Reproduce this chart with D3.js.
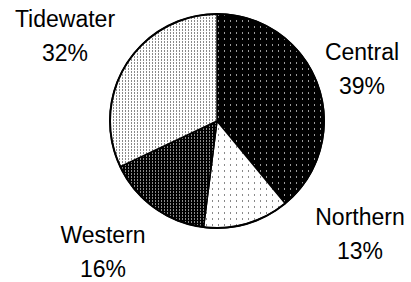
<!DOCTYPE html>
<html>
<head>
<meta charset="utf-8">
<script src="https://cdn.jsdelivr.net/npm/d3@7"></script>
<style>
  body { margin: 0; background: #fff; }
  svg { display: block; }
</style>
</head>
<body>
<svg width="411" height="282"></svg>
<script>
var regions = ["Central", "Northern", "Western", "Tidewater"];
var shares = [39, 13, 16, 32];
// label anchor (centre x, first baseline y)
var labelX = [362, 360, 103, 65];
var labelY = [60, 225, 243, 27];

var svg = d3.select("svg");
var cx = 217, cy = 121, radius = 107;

// fill patterns, one per region
var defs = svg.append("defs");
var pats = [
  { id: "pCentral", size: 6, bg: "#000", dot: "#9a9a9a" },
  { id: "pNorthern", size: 6, bg: "#fff", dot: "#888" },
  { id: "pWestern", size: 3, bg: "#000", dot: "#8a8a8a" },
  { id: "pTidewater", size: 3, bg: "#fff", dot: "#8a8a8a" }
];
pats.forEach(function(p) {
  var pat = defs.append("pattern")
    .attr("id", p.id)
    .attr("patternUnits", "userSpaceOnUse")
    .attr("width", p.size)
    .attr("height", p.size);
  pat.append("rect").attr("width", p.size).attr("height", p.size).attr("fill", p.bg);
  pat.append("rect").attr("x", 1).attr("y", 1).attr("width", 1).attr("height", 2).attr("fill", p.dot);
});

var pie = d3.pie().sort(null).value(function(d) { return d; });
var arc = d3.arc().innerRadius(0).outerRadius(radius);

var g = svg.append("g").attr("transform", "translate(" + cx + "," + cy + ")");

g.selectAll("path.slice")
  .data(pie(shares))
  .enter().append("path")
  .attr("class", "slice")
  .attr("d", arc)
  .attr("fill", function(d, i) { return "url(#" + pats[i].id + ")"; })
  .attr("stroke", "#000")
  .attr("stroke-width", 1.5)
  .attr("stroke-linejoin", "round");

g.append("circle")
  .attr("r", radius)
  .attr("fill", "none")
  .attr("stroke", "#000")
  .attr("stroke-width", 2);

// labels
var lab = svg.selectAll("text.lbl")
  .data(regions)
  .enter().append("text")
  .attr("class", "lbl")
  .attr("text-anchor", "middle")
  .attr("font-family", "Liberation Sans, Arial, sans-serif")
  .attr("font-size", 23)
  .attr("fill", "#000");

lab.append("tspan")
  .attr("x", function(d, i) { return labelX[i]; })
  .attr("y", function(d, i) { return labelY[i]; })
  .text(function(d) { return d; });

lab.append("tspan")
  .attr("x", function(d, i) { return labelX[i]; })
  .attr("y", function(d, i) { return labelY[i] + 34; })
  .text(function(d, i) { return shares[i] + "%"; });
</script>
</body>
</html>
